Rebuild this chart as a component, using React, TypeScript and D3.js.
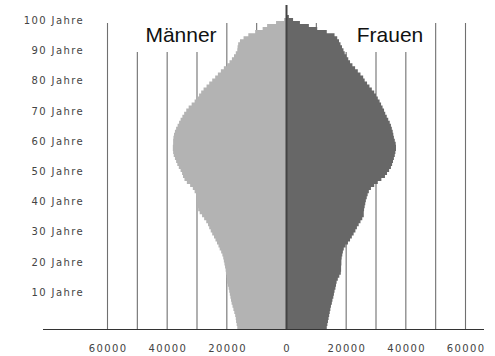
import React from "react";
import * as d3 from "d3";

// Population per single year of age (index = age)
const maleValues: number[] = [
  16500, 16700, 16900, 17000, 17200, 17500, 17800, 18100, 18400, 18600,
  18800, 19000, 19200, 19400, 19700, 19900, 20000, 20100, 20300, 20400,
  20600, 20800, 21000, 21200, 21500, 21900, 22400, 22800, 23300, 23800,
  24300, 24900, 25400, 25900, 26300, 26900, 27600, 28300, 29100, 29600,
  29800, 29900, 30000, 30000, 30300, 30800, 31400, 32300, 33400, 34200,
  34700, 35000, 35500, 36100, 36600, 37000, 37400, 37800, 38000, 38100,
  38100, 38000, 38000, 37900, 37700, 37400, 37000, 36500, 36000, 35500,
  34900, 34300, 33600, 32800, 31800, 30800, 29900, 29300, 28600, 27800,
  26800, 25900, 24900, 23900, 23000, 22000, 21000, 19900, 19100, 18300,
  17600, 17000, 16500, 16400, 16200, 15600, 14400, 12800, 10500, 8000,
  6500, 3500, 800,
];

const femaleValues: number[] = [
  13500, 13700, 13900, 14100, 14300, 14500, 14700, 14900, 15200, 15400,
  15700, 15900, 16100, 16400, 16600, 16800, 17200, 17700, 18200, 18300,
  18300, 18400, 18400, 18500, 18700, 18900, 19200, 19800, 20600, 21300,
  21900, 22500, 23100, 23600, 24200, 24800, 25400, 25900, 25900, 26000,
  26200, 26400, 26600, 26900, 27200, 27600, 28300, 29400, 30600, 31800,
  33000, 33700, 34400, 35000, 35400, 35700, 36000, 36300, 36500, 36700,
  36700, 36600, 36300, 36000, 35800, 35600, 35300, 35000, 34600, 34100,
  33600, 33100, 32700, 32200, 31700, 31200, 30600, 30000, 29400, 28600,
  27800, 27000, 26200, 25700, 24800, 23900, 23000, 22100, 21300, 20700,
  20100, 19500, 19100, 18600, 18100, 17600, 17000, 16100, 13500, 10300,
  7500, 4500, 2200, 800,
];

const ageTicks: number[] = [10, 20, 30, 40, 50, 60, 70, 80, 90, 100];
const ageTickLabel = (a: number) => `${a} Jahre`;
const xTickValues: number[] = [-60000, -40000, -20000, 0, 20000, 40000, 60000];
const gridValues: number[] = [-60000, -50000, -40000, -30000, -20000, -10000, 10000, 20000, 30000, 40000, 50000, 60000];
const seriesLabels: string[] = ["Männer", "Frauen"];

const W = 495;
const H = 356;

export default function App() {
  const x = d3.scaleLinear().domain([-60000, 60000]).range([107.5, 465.5]);
  const y = d3.scaleLinear().domain([0, 105]).range([329, 12]);
  const baseY = y(0);
  const gridTop = 23;
  const tickFont = "'DejaVu Sans', sans-serif";
  const line = d3.line<[number, number]>();

  const sidePath = (values: number[], sign: number) => {
    const pts: [number, number][] = [[x(0), y(0)]];
    values.forEach((v, i) => {
      pts.push([x(sign * v), y(i)]);
      pts.push([x(sign * v), y(i + 1)]);
    });
    pts.push([x(0), y(values.length)]);
    return line(pts) + "Z";
  };

  return (
    <div style={{ position: "absolute", left: 0, top: 0 }}>
      <svg width={W} height={H} style={{ display: "block", background: "#fff" }}>
        {/* gridlines */}
        {gridValues.map((v) => (
          <line key={v} x1={x(v)} x2={x(v)} y1={gridTop} y2={baseY} stroke="#707070" strokeWidth={1.1} />
        ))}
        {/* label boxes */}
        <rect x={131} y={22} width={94} height={30} fill="#fff" />
        <rect x={341} y={22} width={93} height={30} fill="#fff" />
        {/* bars */}
        <path d={sidePath(maleValues, -1)} fill="#b3b3b3" />
        <path d={sidePath(femaleValues, 1)} fill="#676767" />
        {/* center axis */}
        <line x1={x(0)} x2={x(0)} y1={5} y2={baseY} stroke="#444" strokeWidth={2} />
        {/* baseline */}
        <line x1={43} x2={484} y1={baseY + 0.5} y2={baseY + 0.5} stroke="#333" strokeWidth={1} />
        {/* age tick labels */}
        {ageTicks.map((a) => (
          <text
            key={a}
            x={84}
            y={y(a) - 6}
            textAnchor="end"
            dominantBaseline="middle"
            fontFamily={tickFont}
            fontSize={10}
            letterSpacing={1.4}
            fill="#444"
          >
            {ageTickLabel(a)}
          </text>
        ))}
        {/* x tick labels */}
        {xTickValues.map((v) => (
          <text
            key={v}
            x={x(v) + 0.7}
            y={349}
            textAnchor="middle"
            dominantBaseline="middle"
            fontFamily={tickFont}
            fontSize={10}
            letterSpacing={1.4}
            fill="#444"
          >
            {d3.format("d")(Math.abs(v))}
          </text>
        ))}
        {/* series labels */}
        <text x={181} y={42} textAnchor="middle" fontFamily="'Liberation Sans', Arial, sans-serif" fontSize={21} fill="#111">
          {seriesLabels[0]}
        </text>
        <text x={390} y={42} textAnchor="middle" fontFamily="'Liberation Sans', Arial, sans-serif" fontSize={21} fill="#111">
          {seriesLabels[1]}
        </text>
      </svg>
    </div>
  );
}
